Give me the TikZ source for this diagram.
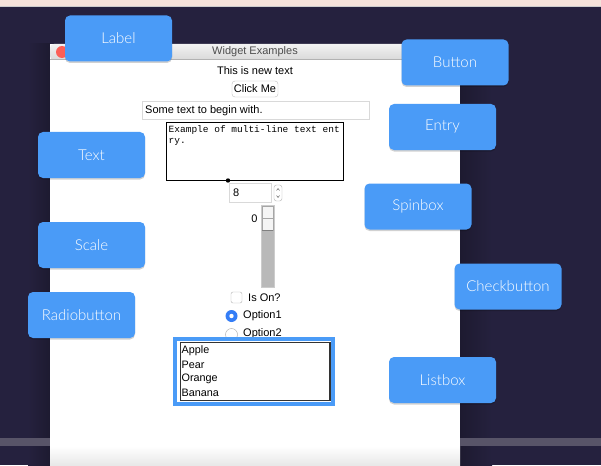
\documentclass[tikz,border=0pt]{standalone}
\usepackage{fontspec}
\setmainfont{Liberation Sans}
\setmonofont{Liberation Mono}
\newfontfamily\tagfont{Lato Light}
\definecolor{bgnavy}{RGB}{37,33,62}
\definecolor{bgshadow}{RGB}{29,26,48}
\definecolor{pinktop}{RGB}{245,226,218}
\definecolor{boxblue}{RGB}{74,155,247}
\definecolor{radioblue}{RGB}{52,125,246}
\definecolor{bandgray}{RGB}{88,84,104}
\definecolor{trough}{RGB}{185,185,185}
\definecolor{titlegray}{RGB}{77,77,77}
\definecolor{closered}{RGB}{252,95,87}
\tikzset{
  tag/.style={rounded corners=5pt, fill=boxblue, text=white, minimum width=107pt,
    minimum height=46pt, inner sep=0pt, font=\tagfont\fontsize{15}{17}\selectfont},
  tagshadow/.style={rounded corners=5pt, fill=black, opacity=0.18},
  wtext/.style={font=\fontsize{11}{13}\selectfont, inner sep=0pt, text=black},
  litem/.style={font=\fontsize{10.8}{13}\selectfont, inner sep=0pt, anchor=west, text=black},
}
\begin{document}
\begin{tikzpicture}[x=1pt,y=-1pt]
\useasboundingbox (0,0) rectangle (601,465);
% background
\fill[bgnavy] (0,0) rectangle (601,465);
\fill[pinktop] (0,0) rectangle (601,6);
\fill[black!20] (0,6) rectangle (601,7);
% window shadows
\shade[left color=bgshadow, right color=bgnavy] (460,44) rectangle (492,465);
\shade[left color=bgnavy, right color=bgshadow] (28,44) rectangle (50,465);
% band
\fill[bandgray] (0,438) rectangle (601,446);
% window
\fill[white] (50,44) rectangle (460,465);
\shade[top color=white, bottom color=black!9] (50,446) rectangle (460,465);
\shade[top color=black!5, bottom color=black!15, rounded corners=4pt] (50,60) -- (50,44) -- (460,44) -- (460,60) -- cycle;
\fill[black!30] (50,59.5) rectangle (460,60.5);
\node[circle, fill=closered, minimum size=12pt, inner sep=0pt] (close) at (62,52) {};
\node[wtext, text=titlegray] (title) at (255,52) {Widget Examples};
% label widget
\node[wtext] (lblw) at (255,70.5) {This is new text};
% button widget
\node[wtext, draw=black!25, fill=white, rounded corners=3pt, minimum width=46pt, minimum height=16pt] (btnw) at (255,89) {Click Me};
% entry widget
\node[draw=black!15, fill=white, minimum width=227pt, minimum height=18pt, inner sep=0pt] (entryw) at (255.5,110) {};
\node[wtext, anchor=west] (entrytext) at (145,110.5) {Some text to begin with.};
% text widget
\node[draw=black, line width=1.6pt, fill=white, minimum width=177pt, minimum height=58pt, inner sep=0pt] (textw) at (255,151.5) {};
\node[anchor=north west, inner sep=0pt, align=left, font=\ttfamily\fontsize{9.5}{10.5}\selectfont] (texttext) at (168.5,125.5) {Example of multi-line text ent\\ry.};
\fill[black] (228,180.5) circle (2.2pt);
% spinbox widget
\node[draw=black!15, fill=white, minimum width=42pt, minimum height=19pt, inner sep=0pt] (spinw) at (250,192.5) {};
\node[wtext, anchor=west] (spintext) at (233,193) {8};
\node[draw=black!30, fill=white, rounded corners=2.5pt, minimum width=8pt, minimum height=16pt, inner sep=0pt] (spinarr) at (278,193) {};
\draw[black!60, line width=0.5pt] (276.5,190.5) -- (278,188.5) -- (279.5,190.5);
\draw[black!60, line width=0.5pt] (276.5,195.5) -- (278,197.5) -- (279.5,195.5);
% scale widget
\fill[trough] (261,205) rectangle (274,287);
\draw[black!20] (261,205) rectangle (274,287);
\fill[black!4] (262,206) rectangle (273,230);
\draw[black!35] (262,206) rectangle (273,230);
\draw[black!35] (262,218) -- (273,218);
\draw[black!50, line width=1pt] (262,230) -- (273,230);
\node[wtext] (scaleval) at (254.5,219) {0};
% checkbutton widget
\draw[black!30, fill=white, rounded corners=2pt] (231,292) rectangle (242,303);
\node[wtext, anchor=west] (checktext) at (248,297.5) {Is On?};
% radiobuttons
\node[circle, fill=radioblue, minimum size=12pt, inner sep=0pt] (radio1) at (231.5,316) {};
\fill[white] (radio1.center) circle (2.2pt);
\node[wtext, anchor=west] (radio1text) at (243,315.5) {Option1};
\node[circle, draw=black!35, fill=white, minimum size=12pt, inner sep=0pt] (radio2) at (231.5,334.5) {};
\node[wtext, anchor=west] (radio2text) at (243,333.5) {Option2};
% listbox widget
\draw[boxblue, line width=4pt, fill=white] (175,339) rectangle (333,404);
\draw[black!80, line width=1.2pt] (180.5,342.5) rectangle (330,400.5);
\node[litem] (apple) at (181.5,350.5) {Apple};
\node[litem] (pear) at (181.5,364.5) {Pear};
\node[litem] (orange) at (181.5,378.5) {Orange};
\node[litem] (banana) at (181.5,392.5) {Banana};
% callout tags
\foreach \cx/\cy in {118.5/38.5, 455/62.5, 442.5/127, 418/206.5, 91.5/155, 91.5/245, 81.5/315, 508/286.5, 442.5/380}
  \fill[tagshadow] (\cx-53.5,\cy-22) rectangle (\cx+53.5,\cy+24.5);
\node[tag] (tLabel) at (118.5,38.5) {Label};
\node[tag] (tButton) at (455,62.5) {Button};
\node[tag] (tEntry) at (442.5,127) {Entry};
\node[tag] (tSpinbox) at (418,206.5) {Spinbox};
\node[tag] (tText) at (91.5,155) {Text};
\node[tag] (tScale) at (91.5,245) {Scale};
\node[tag] (tRadio) at (81.5,315) {Radiobutton};
\node[tag] (tCheck) at (508,286.5) {Checkbutton};
\node[tag] (tListbox) at (442.5,380) {Listbox};
\end{tikzpicture}
\end{document}
